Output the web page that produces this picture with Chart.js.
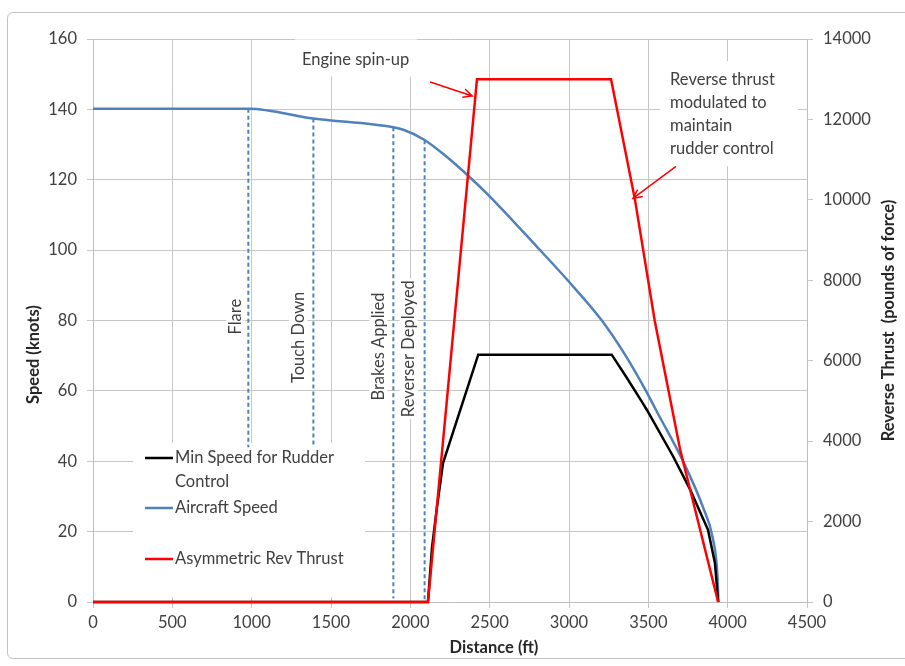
<!DOCTYPE html>
<html>
<head>
<meta charset="utf-8">
<script src="https://cdn.jsdelivr.net/npm/chart.js@4.4.1/dist/chart.umd.min.js"></script>
<style>
  html, body { margin: 0; padding: 0; background: #fff; }
  #wrap { position: relative; width: 905px; height: 666px; }
  #frame { position: absolute; left: 7px; top: 12px; width: 910px; height: 647px;
           border: 1px solid #c3c3c3; border-radius: 6px; box-sizing: border-box; }
  #myChart { position: absolute; left: 0; top: 0; }
</style>
</head>
<body>
<div id="wrap">
  <div id="frame"></div>
  <canvas id="myChart" width="905" height="666"></canvas>
</div>
<script>
// Aircraft speed along the runway (knots vs feet)
const speedDist  = [0, 979, 1389, 1893, 1956, 2082, 2208, 2380, 2500, 2797, 3000, 3207, 3350, 3479, 3555, 3719, 3844, 3907, 3935, 3942];
const speedKnots = [140.2, 140.2, 137.4, 134.9, 134.2, 131.5, 127.3, 120.5, 115.3, 101, 91, 80, 70.5, 60.5, 54, 40, 27, 18, 8, 0];

// Minimum speed for rudder control
const minDist  = [0, 2111, 2137, 2168, 2206, 2428, 3269, 3353, 3458, 3492, 3655, 3763, 3876, 3920, 3940];
const minKnots = [0, 0, 15.7, 27, 39.5, 70.3, 70.3, 64.5, 57, 54.5, 41.5, 32, 20.5, 11, 0];

// Asymmetric reverse thrust (pounds of force)
const thrustDist = [0, 2111, 2420, 3265, 3416, 3540, 3700, 3940];
const thrustLbf  = [0, 0, 13000, 13000, 10000, 7000, 3800, 0];

// Events marked with dashed lines
const eventNames  = ['Flare', 'Touch Down', 'Brakes Applied', 'Reverser Deployed'];
const eventDist   = [979, 1389, 1893, 2090];
const eventTop    = [140.2, 137.4, 134.9, 131.2];
const eventBottom = [44, 44, 1, 0];

const seriesNames = ['Min Speed for Rudder Control', 'Aircraft Speed', 'Asymmetric Rev Thrust'];

const BLUE = '#4f81bd';
const RED = '#ff0000';
const TEXT = '#404040';
const FONT = 'Lato, "Open Sans", sans-serif';

const pts = (xs, ys) => xs.map((v, i) => ({ x: v, y: ys[i] }));

const datasets = [
  { label: seriesNames[0], data: pts(minDist, minKnots), yAxisID: 'y',
    borderColor: '#000', borderWidth: 2.5, order: 1, clip: 5 },
  { label: seriesNames[1], data: pts(speedDist, speedKnots), yAxisID: 'y',
    borderColor: BLUE, borderWidth: 2.5, cubicInterpolationMode: 'monotone', order: 2, clip: 5 },
  { label: seriesNames[2], data: pts(thrustDist, thrustLbf), yAxisID: 'y1',
    borderColor: RED, borderWidth: 2.5, order: 0, clip: 5 }
];
eventNames.forEach((name, i) => {
  datasets.push({
    label: name,
    data: [{ x: eventDist[i], y: eventTop[i] }, { x: eventDist[i], y: eventBottom[i] }],
    yAxisID: 'y', borderColor: BLUE, borderWidth: 2, borderDash: [4, 3], order: 3
  });
});

function whiteBox(ctx, x, y, w, h) {
  ctx.fillStyle = '#fff';
  ctx.fillRect(x, y, w, h);
}

function arrow(ctx, x1, y1, x2, y2) {
  const a = Math.atan2(y2 - y1, x2 - x1);
  const L = 10, spread = 0.45;
  ctx.save();
  ctx.strokeStyle = RED;
  ctx.lineWidth = 1.5;
  ctx.beginPath();
  ctx.moveTo(x1, y1);
  ctx.lineTo(x2, y2);
  ctx.moveTo(x2 - L * Math.cos(a - spread), y2 - L * Math.sin(a - spread));
  ctx.lineTo(x2, y2);
  ctx.lineTo(x2 - L * Math.cos(a + spread), y2 - L * Math.sin(a + spread));
  ctx.stroke();
  ctx.restore();
}

// text boxes, legend and axis titles drawn over the grid, under the lines
const overlay = {
  id: 'overlay',
  beforeDatasetsDraw(chart) {
    const { ctx, chartArea: ca, scales: { x, y } } = chart;
    ctx.save();
    ctx.font = '16.5px ' + FONT;
    ctx.textBaseline = 'middle';

    // event labels, rotated beside each dashed line
    const labelAt = [81.1, 75.2, 72.6, 72];
    const labelDx = [-13, -15, -15, -16];
    eventNames.forEach((name, i) => {
      const px = x.getPixelForValue(eventDist[i]) + labelDx[i];
      const py = y.getPixelForValue(labelAt[i]);
      const w = ctx.measureText(name).width;
      ctx.save();
      ctx.translate(px, py);
      ctx.rotate(-Math.PI / 2);
      whiteBox(ctx, -w / 2 - 2, -9, w + 4, 18);
      ctx.fillStyle = TEXT;
      ctx.textAlign = 'center';
      ctx.fillText(name, 0, 0);
      ctx.restore();
    });

    // callouts
    ctx.textAlign = 'left';
    const ex = x.getPixelForValue(1317), ey = y.getPixelForValue(154.2);
    const ew = ctx.measureText('Engine spin-up').width;
    whiteBox(ctx, ex - 7, ey - 20, ew + 15, 37);
    ctx.fillStyle = TEXT;
    ctx.fillText('Engine spin-up', ex, ey);

    const rLines = ['Reverse thrust', 'modulated to', 'maintain', 'rudder control'];
    const rx = x.getPixelForValue(3637), ry = y.getPixelForValue(148.3);
    whiteBox(ctx, rx - 10, ry - 19, 138, 105);
    ctx.fillStyle = TEXT;
    rLines.forEach((t, i) => ctx.fillText(t, rx, ry + i * 23));

    // legend
    const lx = ca.left + 40, ly = ca.top + 404;
    whiteBox(ctx, lx, ly, 232, 154);
    const rows = [15, 65, 116];
    datasets.slice(0, 3).forEach((ds, i) => {
      const rowY = ly + rows[i];
      ctx.strokeStyle = ds.borderColor;
      ctx.lineWidth = 2.5;
      ctx.beginPath();
      ctx.moveTo(lx + 12, rowY);
      ctx.lineTo(lx + 40, rowY);
      ctx.stroke();
      // wrap long names onto a second line
      const words = ds.label.split(' ');
      const lines = [];
      let cur = '';
      words.forEach(wd => {
        const test = cur ? cur + ' ' + wd : wd;
        if (ctx.measureText(test).width > 190 && cur) { lines.push(cur); cur = wd; }
        else cur = test;
      });
      lines.push(cur);
      ctx.fillStyle = TEXT;
      lines.forEach((t, k) => ctx.fillText(t, lx + 42, rowY + k * 24));
    });

    // axis titles
    ctx.font = 'bold 16.5px ' + FONT;
    ctx.fillStyle = '#262626';
    ctx.textAlign = 'center';
    ctx.fillText('Distance (ft)', (ca.left + ca.right) / 2 + 44, 648);
    ctx.save();
    ctx.translate(34, (ca.top + ca.bottom) / 2 + 34);
    ctx.rotate(-Math.PI / 2);
    ctx.fillText('Speed (knots)', 0, 0);
    ctx.restore();
    ctx.save();
    ctx.translate(889, (ca.top + ca.bottom) / 2);
    ctx.rotate(-Math.PI / 2);
    ctx.fillText('Reverse Thrust  (pounds of force)', 0, 0);
    ctx.restore();
    ctx.restore();
  },
  afterDatasetsDraw(chart) {
    const { ctx, scales: { x, y } } = chart;
    arrow(ctx, x.getPixelForValue(2125), y.getPixelForValue(147.8),
               x.getPixelForValue(2390), y.getPixelForValue(143.8));
    arrow(ctx, x.getPixelForValue(3674), y.getPixelForValue(123.8),
               x.getPixelForValue(3403), y.getPixelForValue(114.7));
  }
};

const tickFont = { family: FONT, size: 16.5 };
const plain = v => String(v);

new Chart(document.getElementById('myChart'), {
  type: 'line',
  data: { datasets },
  plugins: [overlay],
  options: {
    responsive: false,
    animation: false,
    devicePixelRatio: 1,
    layout: { padding: { top: 39 } },
    elements: { point: { radius: 0 }, line: { tension: 0 } },
    plugins: { legend: { display: false }, tooltip: { enabled: false } },
    scales: {
      x: {
        type: 'linear', min: 0, max: 4500,
        ticks: { stepSize: 500, padding: 5, color: TEXT, font: tickFont, maxRotation: 0, callback: plain },
        grid: { color: '#c6c6c6', tickLength: 6 }, border: { color: '#bdbdbd' },
        afterFit(s) { s.height = 64; }
      },
      y: {
        position: 'left', min: 0, max: 160,
        ticks: { stepSize: 20, padding: 10, color: TEXT, font: tickFont, callback: plain },
        grid: { color: '#c6c6c6', tickLength: 6 }, border: { color: '#bdbdbd' },
        afterFit(s) { s.width = 93; }
      },
      y1: {
        position: 'right', min: 0, max: 14000,
        ticks: { stepSize: 2000, padding: 10, color: TEXT, font: tickFont, callback: plain },
        grid: { color: '#c6c6c6', tickLength: 6, drawOnChartArea: false },
        border: { color: '#bdbdbd' },
        afterFit(s) { s.width = 98; }
      }
    }
  }
});
</script>
</body>
</html>
